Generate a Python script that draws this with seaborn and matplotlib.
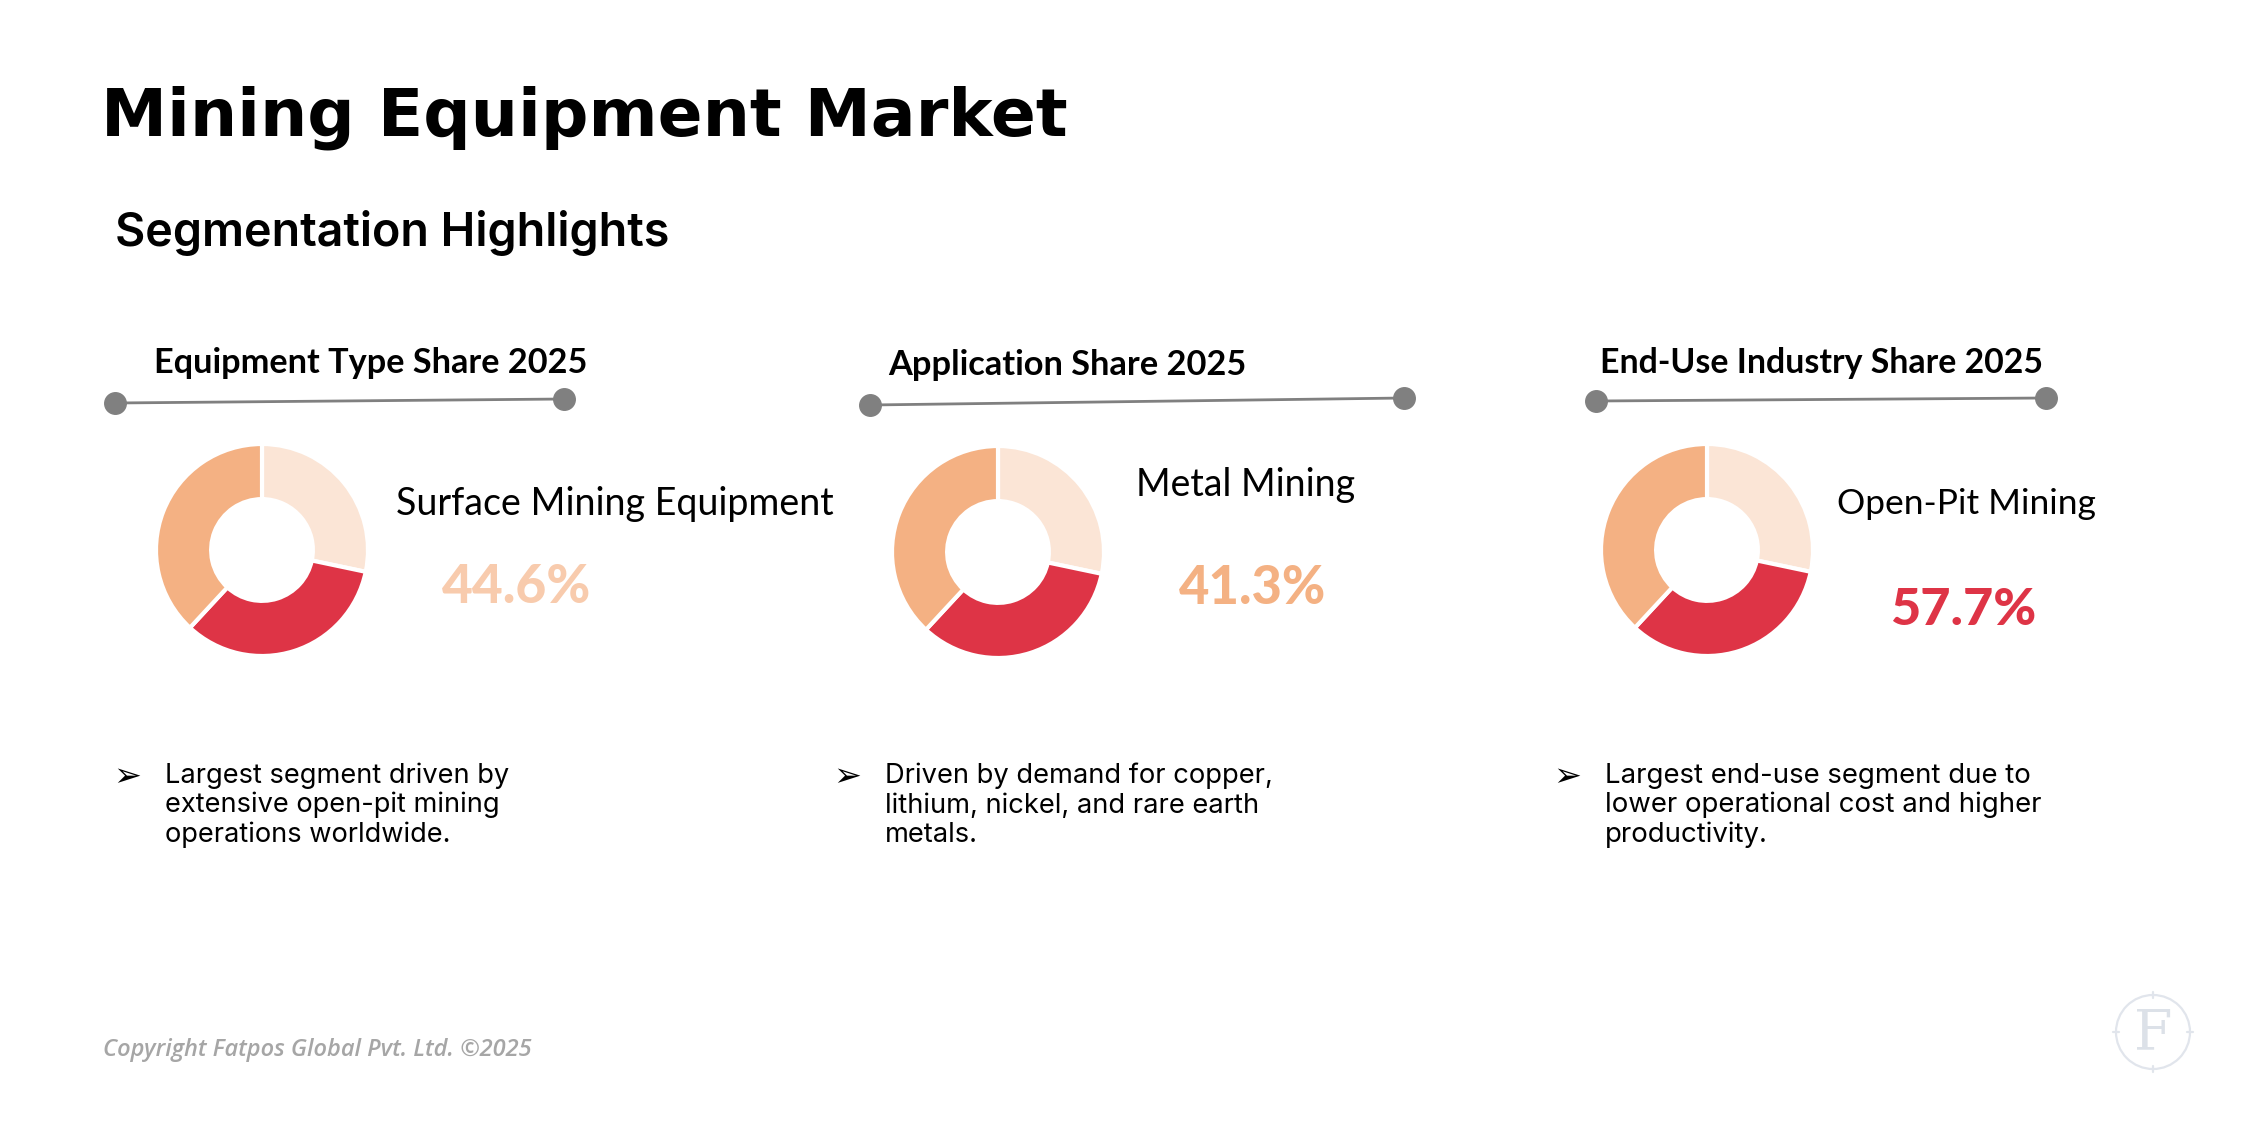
import matplotlib
matplotlib.use("Agg")
import matplotlib.pyplot as plt
import seaborn as sns
from matplotlib.patches import Circle

# ---------------- data ----------------
headings = ["Equipment Type Share 2025", "Application Share 2025", "End-Use Industry Share 2025"]
leaders = ["Surface Mining Equipment", "Metal Mining", "Open-Pit Mining"]
leader_share = [44.6, 41.3, 57.7]
donut_labels = ["Segment A", "Segment B", "Segment C"]
donut_parts = [28.3, 33.6, 38.1]
bullets = [
    ["Largest segment driven by", "extensive open-pit mining", "operations worldwide."],
    ["Driven by demand for copper,", "lithium, nickel, and rare earth", "metals."],
    ["Largest end-use segment due to", "lower operational cost and higher", "productivity."],
]
title = "Mining Equipment Market"
subtitle = "Segmentation Highlights"
copyright_txt = "Copyright Fatpos Global Pvt. Ltd. \u00a92025"

# ---------------- style ----------------
sns.set_theme(style="white")
plt.rcParams["font.family"] = ["DejaVu Sans"]
donut_colors = sns.color_palette(["#FBE5D6", "#DE3446", "#F4B183"])
share_colors = ["#F8CBAD", "#F4B183", "#DE3446"]

W, H = 2249, 1126
fig = plt.figure(figsize=(W / 100, H / 100), dpi=100)
fig.patch.set_facecolor("white")
bg = fig.add_axes([0, 0, 1, 1])
bg.set_xlim(0, W)
bg.set_ylim(H, 0)
bg.axis("off")
renderer = fig.canvas.get_renderer()


def fit_text(x, y, s, target_w, size=20, **kw):
    t = bg.text(x, y, s, fontsize=size, va="baseline", ha="left", **kw)
    bb = t.get_window_extent(renderer)
    t.set_fontsize(size * target_w / bb.width)
    return t


# title & subtitle
fit_text(101, 136, title, 967, family="DejaVu Sans", weight="bold", color="black")
fit_text(115, 246, subtitle, 556, family="Inter", weight="semibold", color="black")

# layout per panel
head_x = [154, 888, 1600]
head_w = [433, 358, 444]
head_y = [373, 375, 373]
line_pts = [((115, 403), (564, 399)), ((870, 405), (1404, 398)), ((1596, 401), (2046, 398))]
donut_c = [(262, 550), (998, 552), (1707, 550)]
R = 106
lead_x = [396, 1136, 1837]
lead_w = [440, 220, 260]
lead_y = [515, 496, 514]
pct_x = [442, 1179, 1890]
pct_w = [149, 147, 146]
pct_y = [603, 604, 625]
arrow_x = [115, 835, 1555]
text_x = [165, 885, 1605]
first_w = [344, 388, 426]
line_y0 = 783
line_dy = 29.5

for i in range(3):
    fit_text(head_x[i], head_y[i], headings[i], head_w[i], family="Lato", weight="bold", color="black")
    (x1, y1), (x2, y2) = line_pts[i]
    bg.plot([x1, x2], [y1, y2], color="#808080", lw=2.0, solid_capstyle="butt", zorder=2)
    bg.plot([x1, x2], [y1, y2], ls="none", marker="o", ms=15.5, color="#808080", zorder=3)

    # donut
    cx, cy = donut_c[i]
    ax = fig.add_axes([(cx - R) / W, 1 - (cy + R) / H, 2 * R / W, 2 * R / H])
    ax.pie(donut_parts, labels=None, colors=donut_colors, startangle=90, counterclock=False,
           radius=1.0, wedgeprops=dict(width=0.52, edgecolor="white", linewidth=3))
    ax.set_xlim(-1, 1)
    ax.set_ylim(-1, 1)
    ax.set_aspect("equal")
    ax.axis("off")

    fit_text(lead_x[i], lead_y[i], leaders[i], lead_w[i], family="Lato", color="black")
    fit_text(pct_x[i], pct_y[i], f"{leader_share[i]:.1f}%", pct_w[i], family="Lato", weight="black",
             color=share_colors[i])

    # bullet
    bg.text(arrow_x[i] - 2, line_y0 - 6, "\u27a2", fontsize=24, family="DejaVu Sans", va="center",
            ha="left", color="black")
    t0 = fit_text(text_x[i], line_y0, bullets[i][0], first_w[i], family="Inter", color="black")
    fs = t0.get_fontsize()
    for k, line in enumerate(bullets[i][1:], start=1):
        bg.text(text_x[i], line_y0 + k * line_dy, line, fontsize=fs, family="Inter", va="baseline",
                ha="left", color="black")

# copyright
fit_text(103, 1056, copyright_txt, 430, family="Open Sans", style="italic", weight="semibold",
         color="#A6A6A6")

# logo
lc = (2153, 1032)
bg.add_patch(Circle(lc, 37, fill=False, ec="#E1E5EC", lw=1.6))
for dx, dy in [(0, -37), (0, 37), (-37, 0), (37, 0)]:
    bg.plot([lc[0] + dx * 0.93, lc[0] + dx * 1.07], [lc[1] + dy * 0.93, lc[1] + dy * 1.07],
            color="#E1E5EC", lw=1.6)
bg.text(lc[0], lc[1] + 2, "F", fontsize=40, family="DejaVu Serif", color="#DCE1E8", ha="center",
        va="center")

fig.savefig("out.png", dpi=100, facecolor="white")
